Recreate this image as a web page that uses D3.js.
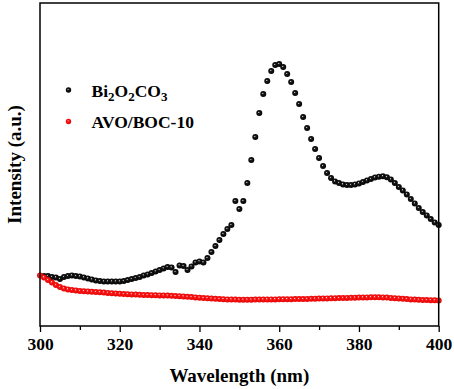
<!DOCTYPE html>
<html><head><meta charset="utf-8">
<script src="https://cdn.jsdelivr.net/npm/d3@7"></script>
<style>body{margin:0;background:#fff}svg{display:block}text{font-family:"Liberation Serif","Times New Roman",serif;font-weight:bold}</style>
</head><body>
<svg id="c" width="454" height="389"></svg>
<script>
// Wavelength (nm) for each series
const wlBOC = d3.range(301, 401);   // 301..400 nm, 1 nm step
const wlAVO = d3.range(300, 401);   // 300..400 nm, 1 nm step
// Intensity (a.u.)
const bocValues = [50,50,49,48.5,47,49,50,50.5,50,49.5,
  48.5,47.5,46.5,45.5,45,44.5,44.5,44.5,44.5,44.5,
  45,46,47,48,49,50.5,51.5,53,54.5,56,
  57.5,59,58.5,54,60.5,60,56,59.5,63.5,64.5,
  63.5,68,74,80,86,92,97,101,125,117,
  125,143,166,189,213,232,245,255,261,262,
  259,252,244,233,222,209,198,187,177,168,
  160,153,148,144.5,143,141.5,141,141,141.5,142.5,
  144,145.5,147,148.5,149.3,149.7,148.7,146.5,143,139,
  135.5,131.5,127,122.5,118,114,110.5,107,103.5,101];
const avoValues = [50.5,48.5,46,43.5,41,39,37.5,36.5,36,35.5,35,
  34.8,34.5,34.2,34,33.7,33.4,33.1,32.8,32.5,32.2,
  32,31.8,31.6,31.4,31.2,31,30.9,30.8,30.7,30.6,
  30.5,30.4,30.2,30,29.8,29.5,29.2,28.9,28.6,28.3,
  28,27.7,27.4,27.2,27,26.8,26.6,26.5,26.4,26.3,
  26.3,26.3,26.3,26.4,26.4,26.5,26.5,26.6,26.6,26.7,
  26.7,26.8,26.8,26.9,27,27,27.1,27.2,27.3,27.4,
  27.5,27.6,27.7,27.8,27.9,28,28.1,28.2,28.3,28.4,
  28.5,28.6,28.7,28.7,28.7,28.6,28.4,28.1,27.8,27.5,
  27.2,26.9,26.6,26.4,26.2,26,25.9,25.8,25.7,25.6];
const xTicks = [300,320,340,360,380,400];
const xMinorTicks = [310,330,350,370,390];
const seriesNames = ["Bi2O2CO3","AVO/BOC-10"];

const svg = d3.select("#c");
const L = 40, R = 438.7, T = 3, B = 326;
const x = d3.scaleLinear().domain([300,400]).range([L,R]);
const y = d3.scaleLinear().domain([0,323]).range([B,T]);

const defs = svg.append("defs");
function grad(id, c1, c2){
  const g = defs.append("radialGradient").attr("id", id)
    .attr("cx","50%").attr("cy","50%").attr("r","55%").attr("fx","40%").attr("fy","36%");
  g.append("stop").attr("offset","0%").attr("stop-color","#fff");
  g.append("stop").attr("offset","28%").attr("stop-color",c1);
  g.append("stop").attr("offset","100%").attr("stop-color",c2);
}
grad("gk","#1a1a1a","#000");
grad("gr","#ff1a1a","#e00000");

// minor ticks
svg.append("g").attr("transform",`translate(0,${B})`)
  .call(d3.axisBottom(x).tickValues(xMinorTicks).tickSize(4).tickFormat(""))
  .call(g=>{g.select(".domain").remove(); g.selectAll("line").attr("stroke-width",1.3);});
// major ticks
const ax = svg.append("g").attr("transform",`translate(0,${B})`)
  .call(d3.axisBottom(x).tickValues(xTicks).tickSize(6).tickPadding(6).tickFormat(d3.format("d")));
ax.select(".domain").remove();
ax.selectAll("line").attr("stroke-width",1.3);
ax.selectAll("text").attr("font-size",17.5).attr("fill","#000")
  .style("font-family",'"Liberation Serif",serif').style("font-weight","bold");

// data
const bocData = wlBOC.map((w,i)=>({w, v:bocValues[i]}));
const avoData = wlAVO.map((w,i)=>({w, v:avoValues[i]}));
svg.append("g").selectAll("circle").data(bocData).join("circle")
  .attr("cx",d=>x(d.w)).attr("cy",d=>y(d.v)).attr("r",3).attr("fill","url(#gk)");
svg.append("g").selectAll("circle").data(avoData).join("circle")
  .attr("cx",d=>x(d.w)).attr("cy",d=>y(d.v)).attr("r",3).attr("fill","url(#gr)");

// frame
svg.append("rect").attr("x",L).attr("y",T).attr("width",R-L).attr("height",B-T)
  .attr("fill","none").attr("stroke","#000").attr("stroke-width",1.5);

// axis titles
svg.append("text").attr("x",(L+R)/2).attr("y",382).attr("text-anchor","middle")
  .attr("font-size",19).text("Wavelength (nm)");
svg.append("text").attr("transform",`translate(21,${(T+B)/2}) rotate(-90)`)
  .attr("text-anchor","middle").attr("font-size",19).text("Intensity (a.u.)");

// legend
const lg = svg.append("g");
lg.append("circle").attr("cx",68.5).attr("cy",90).attr("r",2.7).attr("fill","url(#gk)");
lg.append("circle").attr("cx",68.5).attr("cy",121.5).attr("r",2.7).attr("fill","url(#gr)");
const t1 = lg.append("text").attr("x",91.5).attr("y",96.5).attr("font-size",17.5);
t1.append("tspan").text("Bi");
t1.append("tspan").attr("font-size",13).attr("dy",4).text("2");
t1.append("tspan").attr("dy",-4).text("O");
t1.append("tspan").attr("font-size",13).attr("dy",4).text("2");
t1.append("tspan").attr("dy",-4).text("CO");
t1.append("tspan").attr("font-size",13).attr("dy",4).text("3");
lg.append("text").attr("x",91.5).attr("y",127.5).attr("font-size",17.5).text(seriesNames[1]);
</script>
</body></html>
